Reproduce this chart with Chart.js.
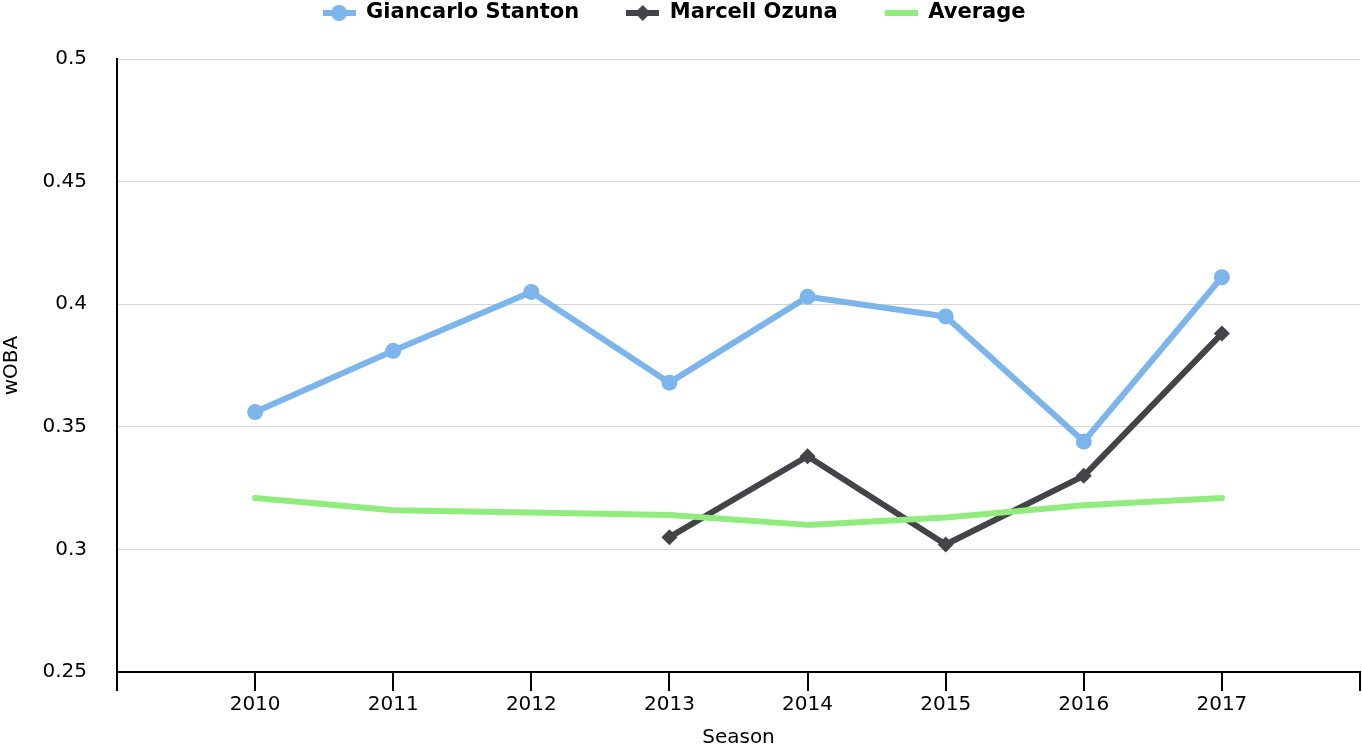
<!DOCTYPE html>
<html>
<head>
<meta charset="utf-8">
<title>wOBA by season</title>
<script src="https://cdn.jsdelivr.net/npm/chart.js@4.4.0/dist/chart.umd.min.js"></script>
<style>
  html, body { margin: 0; padding: 0; background: #fff; }
  #chart { display: block; }
</style>
</head>
<body>
<canvas id="chart" width="1362" height="747"></canvas>
<script>
// values
const seasons = [2010, 2011, 2012, 2013, 2014, 2015, 2016, 2017];
const stanton = [0.356, 0.381, 0.405, 0.368, 0.403, 0.395, 0.344, 0.411];
const ozuna = [null, null, null, 0.305, 0.338, 0.302, 0.330, 0.388];
const average = [0.321, 0.316, 0.315, 0.314, 0.310, 0.313, 0.318, 0.321];
const yTicks = [0.25, 0.3, 0.35, 0.4, 0.45, 0.5];

const BLUE = '#7cb5ec';
const DARK = '#434348';
const GREEN = '#90ed7d';

function toPoints(values) {
  return seasons.map((s, i) => ({ x: s, y: values[i] }));
}

// little line + marker picture for the legend
function legendSymbol(color, marker) {
  const c = document.createElement('canvas');
  c.width = 33;
  c.height = 18;
  const g = c.getContext('2d');
  g.fillStyle = color;
  g.fillRect(0, 6, 33, 6);
  if (marker === 'circle') {
    g.beginPath();
    g.arc(16.5, 9, 8, 0, Math.PI * 2);
    g.fill();
  } else if (marker === 'diamond') {
    g.beginPath();
    g.moveTo(16.5, 1);
    g.lineTo(24.5, 9);
    g.lineTo(16.5, 17);
    g.lineTo(8.5, 9);
    g.closePath();
    g.fill();
  }
  return c;
}

// legend sits higher (and a touch left) than chart.js would put it with this item spacing
const legendLift = {
  id: 'legendLift',
  afterLayout(chart) {
    const l = chart.legend;
    const h = l.height;
    l.top = -44.5;
    l.bottom = l.top + h;
    l.left -= 6;
    l.right -= 6;
  }
};

Chart.defaults.font.family = 'DejaVu Sans';
Chart.defaults.color = '#000';

const ctx = document.getElementById('chart');
const chart = new Chart(ctx, {
  type: 'line',
  data: {
    datasets: [
      {
        label: 'Giancarlo Stanton',
        data: toPoints(stanton),
        borderColor: BLUE,
        backgroundColor: BLUE,
        pointBackgroundColor: BLUE,
        pointStyle: 'circle',
        pointRadius: 8,
        order: 1
      },
      {
        label: 'Marcell Ozuna',
        data: toPoints(ozuna),
        borderColor: DARK,
        backgroundColor: DARK,
        pointBackgroundColor: DARK,
        pointStyle: 'rectRot',
        pointRadius: 8,
        order: 2
      },
      {
        label: 'Average',
        data: toPoints(average),
        borderColor: GREEN,
        backgroundColor: GREEN,
        pointRadius: 0,
        order: 0
      }
    ]
  },
  options: {
    responsive: false,
    animation: false,
    events: [],
    layout: { autoPadding: false, padding: { top: -19, left: 0, right: 2, bottom: 0 } },
    elements: {
      line: { borderWidth: 6, tension: 0, borderJoinStyle: 'round', borderCapStyle: 'round', fill: false },
      point: { borderWidth: 0, hoverRadius: 8 }
    },
    scales: {
      x: {
        type: 'linear',
        min: seasons[0] - 1,
        max: seasons[seasons.length - 1] + 1,
        afterBuildTicks: (scale) => {
          const t = [seasons[0] - 1, ...seasons, seasons[seasons.length - 1] + 1];
          scale.ticks = t.map(v => ({ value: v }));
        },
        afterFit: (scale) => {
          scale.height = 75;
          scale.paddingLeft = 0;
          scale.paddingRight = 0;
        },
        grid: { drawOnChartArea: false, drawTicks: true, tickLength: 19, color: '#000', lineWidth: 2 },
        border: { display: true, color: '#000', width: 2 },
        ticks: {
          autoSkip: false,
          maxRotation: 0,
          padding: 2,
          font: { size: 20 },
          callback: (v) => seasons.includes(v) ? String(v) : ''
        },
        title: {
          display: true,
          text: 'Season',
          font: { size: 20, lineHeight: 0.9 },
          padding: 0
        }
      },
      y: {
        min: 0.25,
        max: 0.5,
        afterBuildTicks: (scale) => {
          scale.ticks = yTicks.map(v => ({ value: v }));
        },
        afterFit: (scale) => { scale.width = 117; },
        grid: {
          drawTicks: false,
          color: (c) => (c.tick && Math.abs(c.tick.value - 0.25) < 1e-6) ? 'rgba(0,0,0,0)' : '#d6d6d6',
          lineWidth: 1
        },
        border: { display: true, color: '#000', width: 2 },
        ticks: {
          padding: 30,
          font: { size: 20 },
          callback: (v) => String(Number(v.toFixed(2)))
        },
        title: {
          display: true,
          text: 'wOBA',
          font: { size: 20 },
          padding: 0
        }
      }
    },
    plugins: {
      tooltip: { enabled: false },
      legend: {
        position: 'top',
        labels: {
          usePointStyle: true,
          pointStyleWidth: 33,
          padding: 47,
          color: '#000',
          font: { size: 21, weight: 'bold' },
          generateLabels: () => [
            { text: 'Giancarlo Stanton', pointStyle: legendSymbol(BLUE, 'circle'), fillStyle: BLUE, strokeStyle: BLUE, lineWidth: 0, hidden: false, datasetIndex: 0 },
            { text: 'Marcell Ozuna', pointStyle: legendSymbol(DARK, 'diamond'), fillStyle: DARK, strokeStyle: DARK, lineWidth: 0, hidden: false, datasetIndex: 1 },
            { text: 'Average', pointStyle: legendSymbol(GREEN, 'none'), fillStyle: GREEN, strokeStyle: GREEN, lineWidth: 0, hidden: false, datasetIndex: 2 }
          ]
        }
      }
    }
  },
  plugins: [legendLift]
});
</script>
</body>
</html>
